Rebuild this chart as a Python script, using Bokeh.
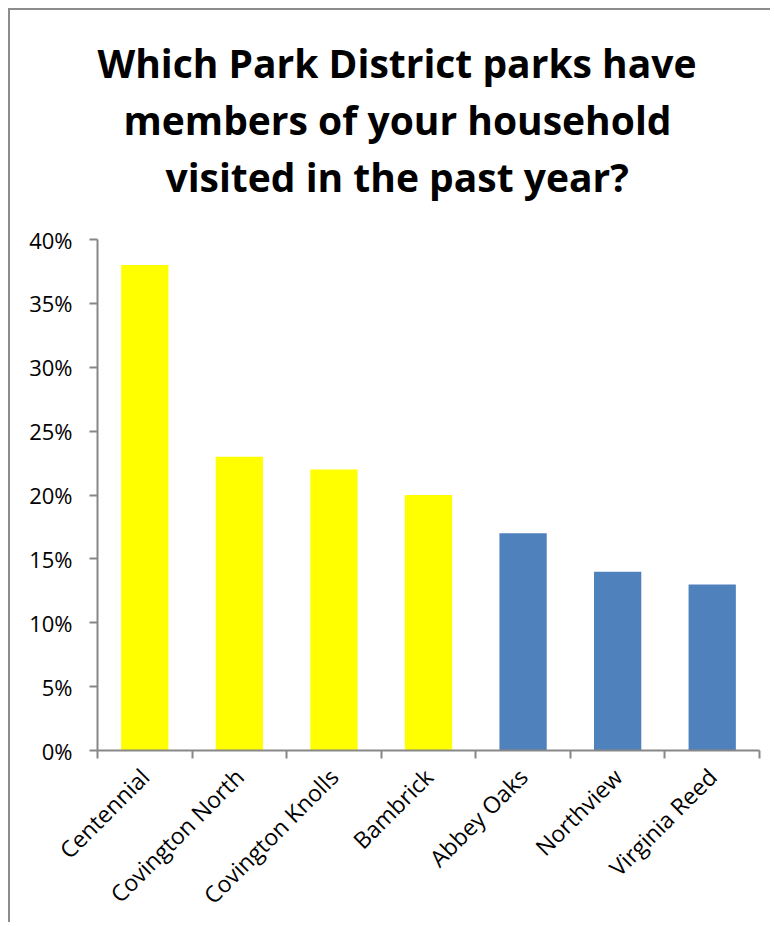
from bokeh.plotting import figure
from bokeh.models import (Range1d, FixedTicker, NumeralTickFormatter, LinearAxis,
                          Title, ColumnDataSource)
from bokeh.embed import file_html
from bokeh.resources import INLINE
from bokeh.transform import factor_cmap

# ---- data ----
categories = ["Centennial", "Covington North", "Covington Knolls", "Bambrick",
              "Abbey Oaks", "Northview", "Virginia Reed"]
values = [0.38, 0.23, 0.22, 0.20, 0.17, 0.14, 0.13]
groups = ["highlight", "highlight", "highlight", "highlight", "other", "other", "other"]
y_ticks = [0, 0.05, 0.10, 0.15, 0.20, 0.25, 0.30, 0.35, 0.40]
title_lines = ["Which Park District parks have",
               "members of your household",
               "visited in the past year?"]

n = len(categories)
centers = [i + 0.5 for i in range(n)]
bounds = [float(i) for i in range(n + 1)]

source = ColumnDataSource(dict(x=centers, top=values, cat=categories, grp=groups))

W, H = 762, 914
p = figure(width=W, height=H, output_backend="svg", toolbar_location=None,
           x_range=Range1d(0, n), y_range=Range1d(0, 0.40),
           x_axis_type=None, y_axis_type=None,
           min_border_left=87, min_border_right=13,
           min_border_top=229, min_border_bottom=173)
p.styles = {"border-top": "2px solid #8c8c8c", "border-left": "2px solid #8c8c8c",
            "margin-left": "8px", "margin-top": "8px"}
p.outline_line_color = None
p.background_fill_color = "white"
p.border_fill_color = "white"
p.title.text = ""
p.title.visible = False

p.vbar(x="x", top="top", width=0.5, source=source, line_color=None,
       fill_color=factor_cmap("grp", palette=["#FFFF00", "#4F81BD"],
                              factors=["highlight", "other"]))

# y axis
yaxis = LinearAxis(ticker=FixedTicker(ticks=y_ticks),
                   formatter=NumeralTickFormatter(format="0%"))
yaxis.axis_line_color = "#878787"
yaxis.axis_line_width = 2
yaxis.major_tick_line_color = "#878787"
yaxis.major_tick_line_width = 2
yaxis.major_tick_out = 8
yaxis.major_tick_in = 0
yaxis.minor_tick_line_color = None
yaxis.major_label_standoff = 17
yaxis.major_label_text_font = "Open Sans"
yaxis.major_label_text_font_size = "22px"
yaxis.major_label_text_color = "#000000"
p.add_layout(yaxis, "left")

# x axis: labels at centers, ticks at category boundaries
xaxis = LinearAxis(ticker=FixedTicker(ticks=centers, minor_ticks=bounds),
                   major_label_overrides={c: lab for c, lab in zip(centers, categories)})
xaxis.axis_line_color = "#878787"
xaxis.axis_line_width = 2
xaxis.major_tick_line_color = None
xaxis.major_tick_out = 0
xaxis.major_tick_in = 0
xaxis.minor_tick_line_color = "#878787"
xaxis.minor_tick_line_width = 2
xaxis.minor_tick_out = 8
xaxis.minor_tick_in = 0
xaxis.major_label_orientation = 0.7853981634
xaxis.major_label_standoff = 14
xaxis.major_label_text_font = "Open Sans"
xaxis.major_label_text_font_size = "23px"
xaxis.major_label_text_color = "#000000"
p.add_layout(xaxis, "below")

# gridlines
p.ygrid.ticker = FixedTicker(ticks=y_ticks)
for r in p.ygrid:
    r.grid_line_color = "#878787"
    r.grid_line_width = 2
for r in p.xgrid:
    r.grid_line_color = None

# spacer between plot area and title block (first added = nearest the plot)
p.add_layout(Title(text=" ", standoff=33, text_font_size="1px"), "above")

# title: three stacked lines, added from the bottom line up
offsets = [0, 26, 68]
for line, off in reversed(list(zip(title_lines, offsets))):
    p.add_layout(Title(text=line, align="left", offset=off, standoff=2,
                       text_font="Open Sans", text_font_style="bold",
                       text_font_size="39px", text_color="#000000"), "above")

open("out.html", "w").write(file_html(p, INLINE))
